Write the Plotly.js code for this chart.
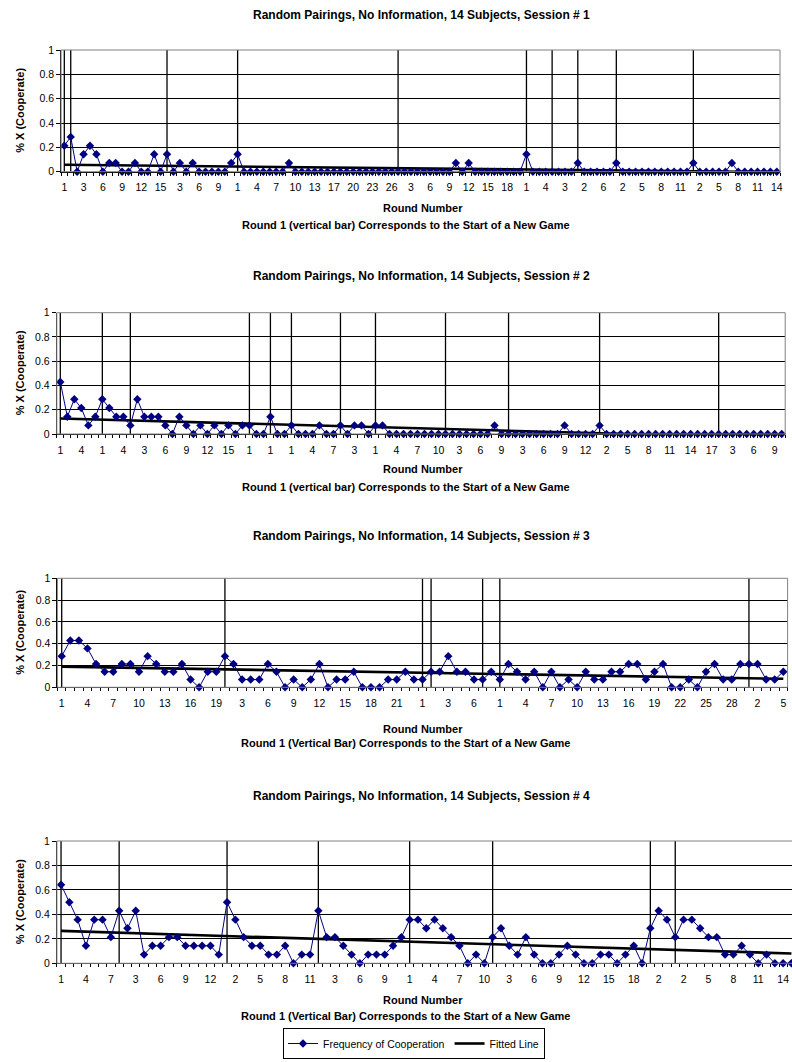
<!DOCTYPE html>
<html>
<head>
<meta charset="utf-8">
<script src="https://cdn.plot.ly/plotly-3.0.1.min.js"></script>
<style>
html,body{margin:0;padding:0;overflow:hidden;background:#fff;}
#chart{width:800px;height:1062px;}
</style>
</head>
<body>
<div id="chart"></div>
<script>
// ---------- Session 1 ----------
const s1Values = [
 .214,.286,0,.143,.214,.143,0,.071,.071,0,
 0,.071,0,0,.143,0,.143,0,.071,0,
 .071,0,0,0,0,0,.071,.143,0,0,
 0,0,0,0,0,.071,0,0,0,0,
 0,0,0,0,0,0,0,0,0,0,
 0,0,0,0,0,0,0,0,0,0,
 0,.071,0,.071,0,0,0,0,0,0,
 0,0,.143,0,0,0,0,0,0,0,
 .071,0,0,0,0,0,.071,0,0,0,
 0,0,0,0,0,0,0,0,.071,0,
 0,0,0,0,.071,0,0,0,0,0,
 0,0];
const s1Labels = ["1","3","6","9","12","15","3","6","9","1","4","7","10","13","17","20","23","26",
 "3","6","9","12","15","18","1","4","3","2","6","2","5","8","11","2","5","8","11","14"];
const s1Starts = [0,1,16,27,52,72,76,80,86,98];
const s1Fit = [0.057, -0.003];

// ---------- Session 2 ----------
const s2Values = [
 .429,.143,.286,.214,.071,.143,.286,.214,.143,.143,
 .071,.286,.143,.143,.143,.071,0,.143,.071,0,
 .071,0,.071,0,.071,0,.071,.071,0,0,
 .143,0,0,.071,0,0,0,.071,0,0,
 .071,0,.071,.071,0,.071,.071,0,0,0,
 0,0,0,0,0,0,0,0,0,0,
 0,0,.071,0,0,0,0,0,0,0,
 0,0,.071,0,0,0,0,.071,0,0,
 0,0,0,0,0,0,0,0,0,0,
 0,0,0,0,0,0,0,0,0,0,
 0,0,0,0];
const s2Labels = ["1","4","1","4","3","6","9","12","15","1","1","1","4","7","3","1","4","7",
 "10","3","6","9","3","6","9","12","2","5","8","11","14","17","3","6","9"];
const s2Starts = [0,6,10,27,30,33,40,45,55,64,77,94];
const s2Fit = [0.128, -0.035];

// ---------- Session 3 ----------
const s3Values = [
 .286,.429,.429,.357,.214,.143,.143,.214,.214,.143,
 .286,.214,.143,.143,.214,.071,0,.143,.143,.286,
 .214,.071,.071,.071,.214,.143,0,.071,0,.071,
 .214,0,.071,.071,.143,0,0,0,.071,.071,
 .143,.071,.071,.143,.143,.286,.143,.143,.071,.071,
 .143,.071,.214,.143,.071,.143,0,.143,0,.071,
 0,.143,.071,.071,.143,.143,.214,.214,.071,.143,
 .214,0,0,.071,0,.143,.214,.071,.071,.214,
 .214,.214,.071,.071,.143];
const s3Labels = ["1","4","7","10","13","16","19","3","6","9","12","15","18","21","1",
 "3","6","1","4","7","10","13","16","19","22","25","28","2","5"];
const s3Starts = [0,19,42,43,49,51,80];
const s3Fit = [0.19, 0.078];

// ---------- Session 4 ----------
const s4Values = [
 .643,.5,.357,.143,.357,.357,.214,.429,.286,.429,
 .071,.143,.143,.214,.214,.143,.143,.143,.143,.071,
 .5,.357,.214,.143,.143,.071,.071,.143,0,.071,
 .071,.429,.214,.214,.143,.071,0,.071,.071,.071,
 .143,.214,.357,.357,.286,.357,.286,.214,.143,0,
 .071,0,.214,.286,.143,.071,.214,.071,0,0,
 .071,.143,.071,0,0,.071,.071,0,.071,.143,
 0,.286,.429,.357,.214,.357,.357,.286,.214,.214,
 .071,.071,.143,.071,0,.071,0,0,0];
const s4Labels = ["1","4","7","3","6","9","12","2","5","8","11","3","6","9","1",
 "4","7","10","3","6","9","12","15","18","2","2","5","8","11","14"];
const s4Starts = [0,7,20,31,42,52,71,74];
const s4Fit = [0.265, 0.08];

const sessionTitles = [
 "Random Pairings, No Information, 14 Subjects, Session # 1",
 "Random Pairings, No Information, 14 Subjects, Session # 2",
 "Random Pairings, No Information, 14 Subjects, Session # 3",
 "Random Pairings, No Information, 14 Subjects, Session # 4"];
const subTitles = [
 "Round 1 (vertical bar) Corresponds to the Start of a New Game",
 "Round 1 (vertical bar) Corresponds to the Start of a New Game",
 "Round 1 (Vertical Bar) Corresponds to the Start of a New Game",
 "Round 1 (Vertical Bar) Corresponds to the Start of a New Game"];
const yTickVals = [0,0.2,0.4,0.6,0.8,1];
const yTickText = ["0","0.2","0.4","0.6","0.8","1"];

// ---------- layout geometry (pixels) ----------
const W = 800, H = 1062;
const panels = [
 {vals:s1Values, labels:s1Labels, starts:s1Starts, fit:s1Fit, left:61.1, right:780.0, top:50.0, bottom:171.7, titleY:15, rnY:208, subY:225},
 {vals:s2Values, labels:s2Labels, starts:s2Starts, fit:s2Fit, left:56.8, right:785.2, top:312.7, bottom:434.0, titleY:276, rnY:469, subY:487},
 {vals:s3Values, labels:s3Labels, starts:s3Starts, fit:s3Fit, left:57.4, right:787.6, top:578.3, bottom:687.3, titleY:536, rnY:729, subY:743},
 {vals:s4Values, labels:s4Labels, starts:s4Starts, fit:s4Fit, left:56.9, right:795.6, top:841.0, bottom:963.3, titleY:796, rnY:1000, subY:1016}
];
const px = x => x / W;
const py = y => 1 - y / H;
const FONT = "Liberation Sans, Arial, sans-serif";

const traces = [];
const layout = {
  width: W, height: H,
  margin: {l:0, r:0, t:0, b:0},
  paper_bgcolor: "#fff", plot_bgcolor: "#fff",
  font: {family: FONT, color: "#000", size: 11},
  showlegend: true,
  legend: {
    orientation: "h", x: px(283), y: py(1028), xanchor: "left", yanchor: "top",
    bordercolor: "#000", borderwidth: 1, bgcolor: "#fff",
    font: {family: FONT, size: 10.5, color: "#000"},
    itemwidth: 30, tracegroupgap: 0
  },
  annotations: [], shapes: []
};

panels.forEach((p, i) => {
  const k = i + 1;
  const xa = "x" + (k === 1 ? "" : k), ya = "y" + (k === 1 ? "" : k);
  const xName = "xaxis" + (k === 1 ? "" : k), yName = "yaxis" + (k === 1 ? "" : k);
  const N = p.vals.length;
  const idx = p.vals.map((_, j) => j);

  // vertical bars at game starts
  const bx = [], by = [];
  p.starts.forEach(s => { bx.push(s, s, null); by.push(0, 1, null); });
  traces.push({x: bx, y: by, xaxis: xa, yaxis: ya, mode: "lines", type: "scatter",
    line: {color: "#000", width: 1.3}, hoverinfo: "skip", showlegend: false});

  // fitted line
  traces.push({x: [0, N - 1], y: p.fit, xaxis: xa, yaxis: ya, mode: "lines", type: "scatter",
    name: "Fitted Line", legendgroup: "fit", legendrank: 2, showlegend: k === 1,
    line: {color: "#000", width: 2.6}, hoverinfo: "skip"});

  // data series
  traces.push({x: idx, y: p.vals, xaxis: xa, yaxis: ya, mode: "lines+markers", type: "scatter",
    name: "Frequency of Cooperation", legendgroup: "data", legendrank: 1, showlegend: k === 1,
    cliponaxis: false,
    line: {color: "#000080", width: 1},
    marker: {symbol: "diamond", size: 6.5, color: "#000080"}});

  layout[xName] = {
    domain: [px(p.left), px(p.right)], anchor: ya,
    range: [-0.5, N - 0.5], fixedrange: true,
    tickmode: "array", tickvals: p.labels.map((_, j) => 3 * j), ticktext: p.labels,
    ticks: "", showgrid: false, zeroline: false,
    showline: true, linecolor: "#000", linewidth: 1,
    tickfont: {family: FONT, size: 10.5, color: "#000"},
    ticklabelstandoff: 6,
    minor: {tickmode: "linear", tick0: -0.5, dtick: 1, ticks: "outside", ticklen: 3, tickcolor: "#000", tickwidth: 1, showgrid: false}
  };
  layout[yName] = {
    domain: [py(p.bottom), py(p.top)], anchor: xa,
    range: [0, 1], fixedrange: true,
    tickmode: "array", tickvals: yTickVals, ticktext: yTickText,
    ticks: "outside", ticklen: 4, tickcolor: "#000",
    showgrid: true, gridcolor: "#000", gridwidth: 1,
    zeroline: false, showline: true, linecolor: "#000", linewidth: 1,
    tickfont: {family: FONT, size: 10.5, color: "#000"}
  };

  layout.shapes.push({type: "rect", xref: xa + " domain", yref: ya + " domain",
    x0: 0, x1: 1, y0: 0, y1: 1, line: {color: "#808080", width: 1}, layer: "above"});

  const ann = layout.annotations;
  ann.push({text: "<b>" + sessionTitles[i] + "</b>", xref: "paper", yref: "paper",
    x: px(421), y: py(p.titleY), showarrow: false, xanchor: "center", yanchor: "middle",
    font: {family: FONT, size: 12, color: "#000"}});
  ann.push({text: "<b>Round Number</b>", xref: "paper", yref: "paper",
    x: px(423), y: py(p.rnY), showarrow: false, xanchor: "center", yanchor: "middle",
    font: {family: FONT, size: 11, color: "#000"}});
  ann.push({text: "<b>" + subTitles[i] + "</b>", xref: "paper", yref: "paper",
    x: px(406), y: py(p.subY), showarrow: false, xanchor: "center", yanchor: "middle",
    font: {family: FONT, size: 11, color: "#000"}});
  ann.push({text: "<b>% X (Cooperate)</b>", xref: "paper", yref: "paper",
    x: px(20), y: py((p.top + p.bottom) / 2), showarrow: false, textangle: -90,
    xanchor: "center", yanchor: "middle",
    font: {family: FONT, size: 11, color: "#000"}});
});

Plotly.newPlot("chart", traces, layout, {staticPlot: true, displayModeBar: false});
</script>
</body>
</html>
